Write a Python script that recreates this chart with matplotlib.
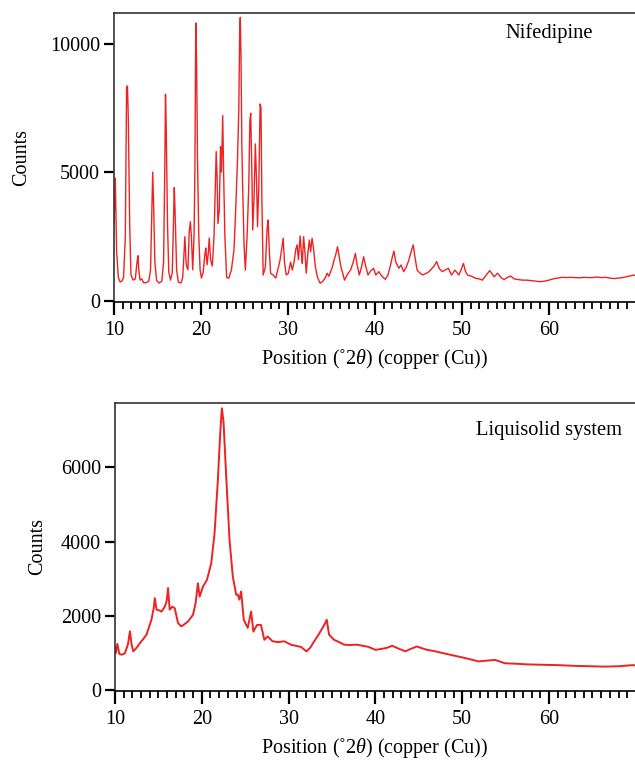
import matplotlib
matplotlib.use("Agg")
import matplotlib.pyplot as plt
from matplotlib.ticker import MultipleLocator, FixedLocator

plt.rcParams['font.family'] = ['Liberation Serif', 'DejaVu Serif']
plt.rcParams['mathtext.fontset'] = 'custom'
plt.rcParams['mathtext.rm'] = 'Liberation Serif'
plt.rcParams['mathtext.it'] = 'Liberation Serif:italic'

# ---------------- data ----------------
nif_x = [10.0, 10.15, 10.3, 10.5, 10.7, 10.9, 11.1, 11.3, 11.45, 11.55, 11.65, 11.8, 11.95, 12.2,
         12.45, 12.65, 12.75, 12.85, 13.0, 13.2, 13.4, 13.7, 14.0, 14.2, 14.35, 14.45, 14.55, 14.7,
         14.9, 15.2, 15.5, 15.7, 15.85, 15.92, 16.0, 16.15, 16.3, 16.5, 16.7, 16.85, 16.93, 17.02,
         17.2, 17.4, 17.7, 17.9, 18.05, 18.15, 18.3, 18.5, 18.65, 18.78, 18.9, 19.05, 19.2, 19.3,
         19.4, 19.5, 19.6, 19.75, 19.9, 20.05, 20.25, 20.45, 20.55, 20.7, 20.85, 20.95, 21.1, 21.3,
         21.5, 21.65, 21.75, 21.85, 21.95, 22.1, 22.25, 22.35, 22.5, 22.6, 22.75, 22.95, 23.2, 23.5,
         23.8, 24.0, 24.2, 24.35, 24.45, 24.52, 24.6, 24.7, 24.8, 24.95, 25.1, 25.3, 25.5, 25.62,
         25.72, 25.85, 25.95, 26.1, 26.25, 26.4, 26.5, 26.65, 26.8, 26.9, 27.0, 27.15, 27.4, 27.6,
         27.72, 27.85, 28.0, 28.3, 28.6, 28.9, 29.1, 29.3, 29.45, 29.6, 29.8, 30.05, 30.3, 30.5,
         30.7, 30.9, 31.05, 31.2, 31.4, 31.55, 31.65, 31.8, 31.95, 32.1, 32.3, 32.46, 32.6, 32.77,
         32.95, 33.15, 33.4, 33.7, 34.0, 34.3, 34.5, 34.7, 34.9, 35.1, 35.3, 35.5, 35.7, 35.9, 36.1,
         36.25, 36.5, 36.8, 37.0, 37.2, 37.5, 37.75, 37.95, 38.2, 38.45, 38.7, 38.9, 39.2, 39.5,
         39.85, 40.1, 40.45, 40.8, 41.2, 41.5, 41.8, 42.0, 42.18, 42.4, 42.75, 43.0, 43.3, 43.6,
         43.9, 44.15, 44.4, 44.6, 44.85, 45.1, 45.45, 45.8, 46.1, 46.4, 46.8, 47.1, 47.4, 47.75,
         48.1, 48.44, 48.8, 49.2, 49.65, 49.9, 50.17, 50.4, 50.65, 51.1, 51.6, 52.0, 52.35, 52.8,
         53.2, 53.7, 54.1, 54.5, 54.85, 55.2, 55.6, 56.0, 56.5, 57.0, 57.5, 58.0, 58.5, 59.0, 59.5,
         60.0, 60.5, 61.0, 61.5, 62.0, 62.5, 63.0, 63.5, 64.0, 64.5, 65.0, 65.5, 66.0, 66.5, 67.0,
         67.5, 68.0, 68.5, 68.9, 69.3, 69.8, 70.0]
nif_y = [3000, 4770, 1900, 900, 730, 760, 900, 2500, 8300, 8350, 7000, 3000, 1000, 800,
         850, 1500, 1750, 1200, 800, 850, 700, 700, 760, 1200, 3500, 5000, 3800, 1500,
         780, 690, 760, 1500, 5500, 8030, 6800, 3000, 1100, 800, 1100, 3200, 4400, 3500,
         1200, 720, 690, 900, 1900, 2490, 1400, 1200, 2700, 3070, 2500, 1200, 2500, 5000,
         10800, 9200, 5500, 2500, 1200, 880, 1100, 1800, 2050, 1400, 1900, 2440, 1600, 1350,
         2500, 4500, 5800, 4800, 3000, 3500, 5990, 5000, 7200, 5000, 2500, 900, 880, 1200,
         2000, 3600, 5500, 7500, 10500, 11020, 9500, 6000, 4300, 2200, 1190, 2500, 4500, 7000,
         7290, 5000, 2750, 4000, 6100, 4500, 2880, 4500, 7650, 7500, 4000, 1000, 1300, 2800,
         3140, 2000, 1070, 1000, 880, 1300, 1600, 2050, 2430, 1500, 1000, 1070, 1500, 1190,
         1500, 2000, 2170, 1600, 2520, 1800, 1450, 2490, 1900, 1070, 1900, 2360, 1900, 2430,
         2000, 1320, 900, 680, 750, 900, 1070, 950, 1130, 1300, 1580, 1800, 2100, 1700, 1300,
         1130, 800, 1000, 1100, 1190, 1500, 1840, 1400, 1000, 1300, 1710, 1400, 1000, 1150,
         1260, 1000, 1130, 950, 830, 1000, 1400, 1700, 1930, 1500, 1260, 1390, 1130, 1300,
         1580, 1900, 2170, 1700, 1190, 1100, 1000, 1050, 1100, 1190, 1350, 1520, 1250, 1130,
         1200, 1260, 1000, 1190, 1000, 1200, 1450, 1150, 1000, 950, 870, 850, 800, 1000,
         1170, 930, 1070, 900, 820, 900, 960, 850, 820, 800, 800, 780, 760, 740, 760,
         800, 850, 880, 910, 900, 910, 900, 890, 910, 900, 900, 920, 900, 910, 880,
         860, 880, 900, 930, 960, 1000, 980]

liq_x = [10.0, 10.08, 10.27, 10.5, 10.8, 11.15, 11.5, 11.72, 11.9, 12.1, 12.5, 12.87, 13.25,
         13.63, 14.2, 14.45, 14.59, 14.78, 15.1, 15.36, 15.73, 15.95, 16.11, 16.3, 16.6, 16.88,
         17.26, 17.65, 18.0, 18.4, 18.98, 19.29, 19.55, 19.75, 20.13, 20.59, 21.09, 21.47, 21.85,
         22.12, 22.31, 22.5, 22.81, 23.19, 23.57, 23.96, 24.14, 24.33, 24.53, 24.83, 25.29, 25.68,
         25.94, 26.36, 26.82, 27.2, 27.58, 28.15, 28.8, 29.5, 30.26, 30.8, 31.41, 32.05, 32.5,
         32.94, 33.4, 33.9, 34.2, 34.39, 34.66, 35.23, 35.8, 36.38, 37.1, 37.9, 38.5, 39.2, 40.0,
         40.8, 41.4, 41.92, 42.6, 43.45, 44.1, 44.78, 45.8, 46.9, 48.2, 49.56, 50.7, 51.86, 52.8,
         53.77, 54.92, 56.0, 57.5, 59.12, 61.0, 62.95, 64.7, 66.39, 68.0, 69.63, 70.0]
liq_y = [1150, 1000, 1250, 980, 960, 1000, 1250, 1590, 1250, 1050, 1150, 1270, 1380,
         1500, 1900, 2200, 2480, 2170, 2150, 2120, 2250, 2400, 2750, 2170, 2250, 2210,
         1810, 1720, 1780, 1850, 2030, 2350, 2880, 2520, 2790, 2970, 3420, 4230, 5660,
         6910, 7580, 7220, 5750, 4050, 3060, 2570, 2570, 2440, 2660, 1900, 1680, 2120,
         1580, 1760, 1760, 1360, 1450, 1320, 1300, 1320, 1230, 1200, 1170, 1050, 1150,
         1320, 1480, 1680, 1800, 1900, 1500, 1360, 1300, 1230, 1220, 1230, 1200, 1170, 1090,
         1120, 1150, 1200, 1130, 1050, 1120, 1180, 1100, 1050, 980, 910, 850, 780, 800,
         820, 730, 720, 700, 690, 680, 660, 650, 640, 650, 680, 670]

x_major = [10, 20, 30, 40, 50, 60, 70]
top_yticks = [0, 5000, 10000]
bot_yticks = [0, 2000, 4000, 6000]
xlabel = 'Position (˚2$\\theta$) (copper (Cu))'
ylabel = 'Counts'
titles = ['Nifedipine', 'Liquisolid system']

# ---------------- figure ----------------
W, H = 635, 760
fig = plt.figure(figsize=(W / 100, H / 100), dpi=100)
line_color = '#ee2222'
fs = 14.5


def make_axes(rect, xs, ys, yticks, ylim, title, tx, ty, lw):
    ax = fig.add_axes(rect)
    ax.plot(xs, ys, color=line_color, lw=lw)
    ax.set_xlim(10, 69.9)
    ax.set_ylim(*ylim)
    ax.xaxis.set_major_locator(FixedLocator(x_major))
    ax.xaxis.set_minor_locator(MultipleLocator(1))
    ax.yaxis.set_major_locator(FixedLocator(yticks))
    ax.spines['right'].set_visible(False)
    for s in ['left', 'bottom', 'top']:
        ax.spines[s].set_linewidth(1.2)
        ax.spines[s].set_color('#333333')
    ax.spines['bottom'].set_color('black')
    ax.tick_params(axis='x', which='major', direction='out', length=9, width=1.6,
                   labelsize=fs, pad=5)
    ax.tick_params(axis='x', which='minor', direction='out', length=5, width=1.3)
    ax.tick_params(axis='y', which='major', direction='out', length=7, width=1.6,
                   labelsize=fs, pad=3)
    ax.set_xlabel(xlabel, fontsize=fs, labelpad=5)
    ax.set_ylabel(ylabel, fontsize=fs)
    ax.text(tx, ty, title, transform=ax.transAxes, fontsize=14.8, ha='right', va='center')
    return ax


ax1 = make_axes([114 / W, 1 - 302 / H, (W - 114) / W, (302 - 12.7) / H],
                nif_x, nif_y, top_yticks, (-50, 11200), titles[0], 0.92, 0.93, 1.0)
ax1.yaxis.set_label_coords(-0.16, 0.5)
ax2 = make_axes([115 / W, 1 - 691 / H, (W - 115) / W, (691 - 402.7) / H],
                liq_x, liq_y, bot_yticks, (-15, 7730), titles[1], 0.975, 0.905, 1.4)
ax2.yaxis.set_label_coords(-0.13, 0.5)

fig.savefig('out.png', dpi=100)
